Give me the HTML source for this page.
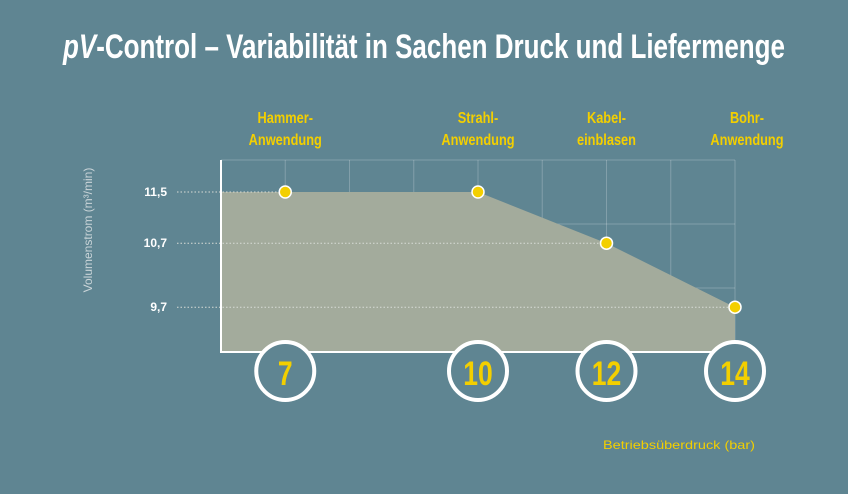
<!DOCTYPE html>
<html><head><meta charset="utf-8"><style>
html,body{margin:0;padding:0;background:#5f8592;}
svg{display:block;font-family:"Liberation Sans",sans-serif;}
</style></head><body>
<svg id="chart" width="848" height="494" viewBox="0 0 848 494" xmlns="http://www.w3.org/2000/svg">
<rect x="0" y="0" width="848" height="494" fill="#5f8592"/>
<text x="63" y="58" font-size="34" font-weight="bold" fill="#ffffff" textLength="722" lengthAdjust="spacingAndGlyphs"><tspan font-style="italic">pV</tspan>-Control – Variabilität in Sachen Druck und Liefermenge</text>
<g id="grid"></g>
<g id="area"></g>
<g id="refs"></g>
<g id="axes"></g>
<g id="points"></g>
<g id="cats"></g>
<text transform="translate(92,230) rotate(-90)" text-anchor="middle" font-size="12" fill="#c9d4d8">Volumenstrom (m³/min)</text>
<text x="603" y="449" font-size="12" fill="#f3cf00" textLength="152" lengthAdjust="spacingAndGlyphs">Betriebsüberdruck (bar)</text>
</svg>
<script>
const pressures = [7, 10, 12, 14];
const flows = [11.5, 11.5, 10.7, 9.7];
const flowLabels = ["11,5", "11,5", "10,7", "9,7"];
const catLine1 = ["Hammer-", "Strahl-", "Kabel-", "Bohr-"];
const catLine2 = ["Anwendung", "Anwendung", "einblasen", "Anwendung"];
const xGridTicks = [7, 8, 9, 10, 11, 12, 13, 14];
const yGridTicks = [10, 11, 12];

const X0 = 221, X1 = 735, XMIN = 6, XMAX = 14;
const Y0 = 352, Y1 = 160, YMIN = 9, YMAX = 12;
const sx = v => X0 + (v - XMIN) / (XMAX - XMIN) * (X1 - X0);
const sy = v => Y0 - (v - YMIN) / (YMAX - YMIN) * (Y0 - Y1);
const NS = "http://www.w3.org/2000/svg";
function mk(tag, attrs, parent) {
  const e = document.createElementNS(NS, tag);
  for (const k in attrs) e.setAttribute(k, attrs[k]);
  parent.appendChild(e);
  return e;
}
const grid = document.getElementById('grid');
const area = document.getElementById('area');
const refs = document.getElementById('refs');
const axes = document.getElementById('axes');
const pts = document.getElementById('points');
const cats = document.getElementById('cats');

// area
let d = `M${X0},${Y0} L${X0},${sy(flows[0])}`;
pressures.forEach((p, i) => { d += ` L${sx(p)},${sy(flows[i])}`; });
d += ` L${sx(pressures[pressures.length-1])},${Y0} Z`;
const ap = mk('path', {d: d, fill: '#a3ab9c'}, area);



// grid
xGridTicks.forEach(t => {
  const l = mk('line', {x1: sx(t), x2: sx(t), y1: Y1, y2: Y0, stroke: 'rgba(255,255,255,0.22)', 'stroke-width': 1}, grid);
  
  
});
yGridTicks.forEach(t => {
  const l = mk('line', {x1: X0, x2: X1, y1: sy(t), y2: sy(t), stroke: 'rgba(255,255,255,0.22)', 'stroke-width': 1}, grid);
  
  
});

// reference dotted lines + tick labels (unique values)
const seen = {};
flows.forEach((f, i) => {
  if (seen[f]) return; seen[f] = 1;
  const l = mk('line', {x1: 177, x2: sx(pressures[i]), y1: sy(f), y2: sy(f), stroke: '#d8dcd6', 'stroke-width': 1, 'stroke-dasharray': '1.5 2'}, refs);
  
  
  const t = mk('text', {x: 167, y: sy(f) + 4, 'text-anchor': 'end', 'font-size': 12, 'font-weight': 'bold', fill: '#ffffff'}, refs);
  t.textContent = flowLabels[i];
  
  
});

// axes
const ya = mk('line', {x1: X0, x2: X0, y1: Y1, y2: Y0 + 1, stroke: '#ffffff', 'stroke-width': 2}, axes);


const xa = mk('line', {x1: X0 - 1, x2: X1, y1: Y0, y2: Y0, stroke: '#ffffff', 'stroke-width': 2}, axes);



// points, pressure circles, category labels
pressures.forEach((p, i) => {
  const c = mk('circle', {cx: sx(p), cy: sy(flows[i]), r: 6, fill: '#f3cf00', stroke: '#ffffff', 'stroke-width': 1.5}, pts);
  
  
  const rc = mk('circle', {cx: sx(p), cy: 371, r: 29, fill: '#5f8592', stroke: '#ffffff', 'stroke-width': 4}, pts);
  
  
  const nt = mk('text', {x: sx(p), y: 385, 'text-anchor': 'middle', 'font-size': 34, 'font-weight': 'bold', fill: '#f3cf00', transform: `translate(${sx(p)},0) scale(0.78,1) translate(${-sx(p)},0)`}, pts);
  nt.textContent = String(p);
  
  
  const cx = i === 3 ? sx(p) + 12 : sx(p);
  const t1 = mk('text', {x: cx, y: 123, 'text-anchor': 'middle', 'font-size': 16, 'font-weight': 'bold', fill: '#f3cf00', transform: `translate(${cx},0) scale(0.8,1) translate(${-cx},0)`}, cats);
  t1.textContent = catLine1[i];
  
  
  const t2 = mk('text', {x: cx, y: 145, 'text-anchor': 'middle', 'font-size': 16, 'font-weight': 'bold', fill: '#f3cf00', transform: `translate(${cx},0) scale(0.8,1) translate(${-cx},0)`}, cats);
  t2.textContent = catLine2[i];
  
  
});
</script>
</body></html>
